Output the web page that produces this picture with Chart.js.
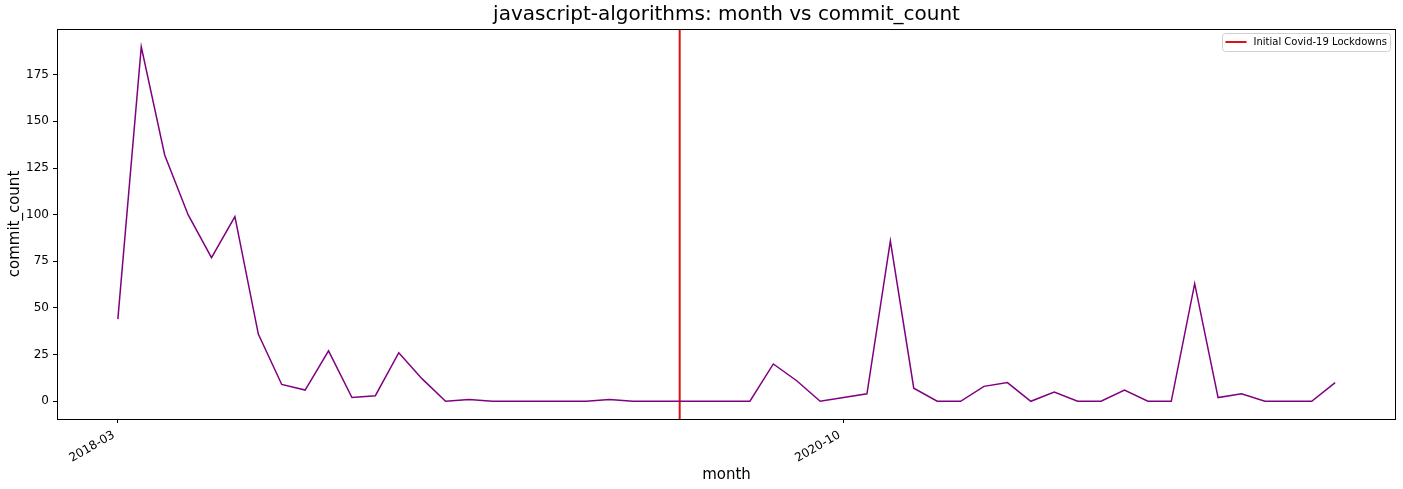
<!DOCTYPE html>
<html><head><meta charset="utf-8">
<script src="https://cdn.jsdelivr.net/npm/chart.js@4.4.0/dist/chart.umd.min.js"></script>
<style>html,body{margin:0;padding:0;background:#fff;}#wrap{width:1403px;height:489px;position:relative;}</style>
</head><body><div id="wrap"><canvas id="c"></canvas></div>
<script>
const months = ['2018-03','2018-04','2018-05','2018-06','2018-07','2018-08','2018-09','2018-10','2018-11','2018-12',
  '2019-01','2019-02','2019-03','2019-04','2019-05','2019-06','2019-07','2019-08','2019-09','2019-10','2019-11','2019-12',
  '2020-01','2020-02','2020-03','2020-04','2020-05','2020-06','2020-07','2020-08','2020-09','2020-10','2020-11','2020-12',
  '2021-01','2021-02','2021-03','2021-04','2021-05','2021-06','2021-07','2021-08','2021-09','2021-10','2021-11','2021-12',
  '2022-01','2022-02','2022-03','2022-04','2022-05','2022-06','2022-07'];
const commitCount = [44,190,132,100,77,99,36,9,6,27,2,3,26,12,0,1,0,0,0,0,0,1,0,0,0,0,0,0,20,11,0,2,4,86,7,0,0,8,10,0,5,0,0,6,0,0,63,2,4,0,0,0,10];
const xTickLabels = ['2018-03','2020-10'];
const yTickValues = [0,25,50,75,100,125,150,175];
const lockdownMonth = '2020-03';
const lockdownLabel = 'Initial Covid-19 Lockdowns';
const titleText = 'javascript-algorithms: month vs commit_count';

Chart.defaults.font.family = "'DejaVu Sans', sans-serif";
Chart.defaults.color = '#000';

const yMin = -9.5, yMax = 199.5;
const lockIdx = months.indexOf(lockdownMonth);
const redColor = '#dd1111';

const framePlugin = {
  id: 'frame',
  afterDatasetsDraw(chart) {
    const {ctx, chartArea: a} = chart;
    ctx.save();
    ctx.strokeStyle = '#000';
    ctx.lineWidth = 1;
    ctx.strokeRect(Math.round(a.left) + 0.5, Math.round(a.top) + 0.5, Math.round(a.right - a.left) - 1, Math.round(a.bottom - a.top));
    ctx.restore();
  },
  afterDraw(chart) {
    const {ctx, chartArea: a} = chart;
    ctx.save();
    // title centred over the plot area
    ctx.fillStyle = '#000';
    ctx.font = "20px 'DejaVu Sans', sans-serif";
    ctx.textAlign = 'center';
    ctx.textBaseline = 'middle';
    ctx.fillText(titleText, (a.left + a.right) / 2, 15);
    // legend box
    const bx = a.right - 173.5, by = 33.5, bw = 168, bh = 18, r = 3;
    ctx.beginPath();
    ctx.moveTo(bx + r, by);
    ctx.lineTo(bx + bw - r, by); ctx.quadraticCurveTo(bx + bw, by, bx + bw, by + r);
    ctx.lineTo(bx + bw, by + bh - r); ctx.quadraticCurveTo(bx + bw, by + bh, bx + bw - r, by + bh);
    ctx.lineTo(bx + r, by + bh); ctx.quadraticCurveTo(bx, by + bh, bx, by + bh - r);
    ctx.lineTo(bx, by + r); ctx.quadraticCurveTo(bx, by, bx + r, by);
    ctx.closePath();
    ctx.fillStyle = 'rgba(255,255,255,0.8)';
    ctx.fill();
    ctx.strokeStyle = '#d0d0d0';
    ctx.lineWidth = 1;
    ctx.stroke();
    ctx.beginPath();
    ctx.moveTo(bx + 3, by + 8.5);
    ctx.lineTo(bx + 24, by + 8.5);
    ctx.strokeStyle = redColor;
    ctx.lineWidth = 2;
    ctx.stroke();
    ctx.fillStyle = '#000';
    ctx.font = "10px 'DejaVu Sans', sans-serif";
    ctx.textBaseline = 'middle';
    ctx.textAlign = 'left';
    ctx.fillText(lockdownLabel, bx + 31, by + 8.5);
    ctx.restore();
  }
};

new Chart(document.getElementById('c'), {
  type: 'line',
  data: {
    datasets: [
      {
        label: 'commit_count',
        data: commitCount.map((v, i) => ({x: i, y: v})),
        borderColor: '#800080',
        borderWidth: 1.5,
        pointRadius: 0,
        tension: 0,
        fill: false
      },
      {
        label: lockdownLabel,
        data: [{x: lockIdx, y: yMin}, {x: lockIdx, y: yMax}],
        borderColor: redColor,
        borderWidth: 2,
        pointRadius: 0,
        fill: false
      }
    ]
  },
  options: {
    responsive: true,
    maintainAspectRatio: false,
    animation: false,
    layout: {padding: {left: 0, right: 7, top: 29, bottom: 0}},
    plugins: {
      legend: {display: false},
      tooltip: {enabled: false},
      title: {display: false}
    },
    scales: {
      x: {
        type: 'linear',
        min: -2.6,
        max: 54.6,
        afterBuildTicks(scale) {
          scale.ticks = xTickLabels.map(l => ({value: months.indexOf(l)}));
        },
        afterFit(scale) { scale.height = 70; },
        ticks: {
          autoSkip: false,
          minRotation: 30,
          maxRotation: 30,
          padding: 5,
          labelOffset: -4,
          font: {size: 12},
          color: '#000',
          callback: (v) => months[v]
        },
        grid: {display: true, drawOnChartArea: false, drawTicks: true, tickLength: 4, tickColor: '#000'},
        border: {display: false},
        title: {display: true, text: 'month', font: {size: 15}, color: '#000', padding: {top: 0, bottom: 5}}
      },
      y: {
        type: 'linear',
        min: yMin,
        max: yMax,
        afterBuildTicks(scale) {
          scale.ticks = yTickValues.map(v => ({value: v}));
        },
        afterFit(scale) { scale.width = 57; },
        ticks: {padding: 4, font: {size: 12}, color: '#000'},
        grid: {display: true, drawOnChartArea: false, drawTicks: true, tickLength: 4, tickColor: '#000'},
        border: {display: false},
        title: {display: true, text: 'commit_count', font: {size: 15}, color: '#000', padding: {top: 6, bottom: 0}}
      }
    }
  },
  plugins: [framePlugin]
});
</script></body></html>
